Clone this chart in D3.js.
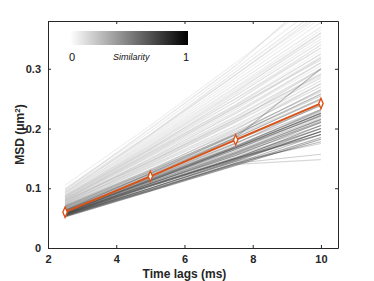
<!DOCTYPE html>
<html>
<head>
<meta charset="utf-8">
<script src="https://cdn.jsdelivr.net/npm/d3@7"></script>
<style>
  body { margin: 0; background: #fff; }
  svg text { font-family: "Liberation Sans", Arial, sans-serif; }
</style>
</head>
<body>
<svg id="chart"></svg>
<script>
// time lags (ms)
var lags = [2.5, 5, 7.5, 10];
var xTicks = [2, 4, 6, 8, 10];
var yTicks = [0, 0.1, 0.2, 0.3];

// one entry per track: similarity and MSD at each lag
var similarity = [
  .05,.08,.10,.06,.12,.07,.15,.09,.11,.14,.05,.18,.10,.13,.16,.08,.20,.12,.17,.06,
  .22,.19,.10,.25,.14,.07,.09,.21,.13,.11,.04,.16,.24,.18,.06,.09,.15,.12,.08,.20,
  .30,.35,.28,.40,.33,.45,.38,.32,.42,.48,.36,.50,.29,.44,.31,.46,.37,.34,.40,.30,
  .52,.41,.27,.47,.39,
  .60,.65,.70,.75,.80,.68,.72,.62,.78,.85,.66,.55,.58,.70,.64,.82,.76,.63,.69,.77
];
var msd1 = [
  .105,.100,.098,.095,.092,.090,.088,.087,.086,.085,.084,.083,.082,.081,.080,.079,.078,.077,.076,.075,
  .075,.074,.073,.072,.094,.091,.089,.086,.083,.080,.078,.076,.079,.074,.085,.082,.097,.093,.087,.081,
  .071,.070,.069,.068,.067,.066,.066,.065,.064,.063,.063,.062,.061,.060,.060,.059,.058,.058,.057,.056,
  .070,.068,.072,.064,.062,
  .060,.059,.058,.057,.056,.055,.055,.054,.053,.052,.063,.062,.061,.060,.058,.054,.056,.053,.057,.059
];
var msd2 = [
  .205,.195,.190,.185,.180,.178,.172,.170,.168,.165,.162,.160,.158,.155,.153,.150,.148,.146,.145,.143,
  .140,.138,.137,.135,.190,.183,.176,.166,.165,.160,.155,.150,.145,.142,.170,.162,.200,.188,.174,.157,
  .132,.130,.128,.126,.124,.122,.120,.118,.116,.115,.113,.112,.110,.108,.107,.105,.104,.100,.098,.096,
  .128,.124,.130,.117,.114,
  .115,.112,.110,.108,.105,.103,.100,.098,.097,.095,.125,.120,.118,.112,.106,.100,.104,.096,.108,.114
];
var msd3 = [
  .310,.300,.290,.285,.275,.270,.262,.258,.250,.245,.240,.238,.235,.232,.228,.225,.220,.218,.215,.212,
  .210,.205,.203,.200,.295,.280,.268,.255,.250,.240,.235,.225,.215,.212,.260,.245,.305,.290,.265,.236,
  .195,.190,.188,.185,.182,.180,.176,.172,.170,.168,.165,.162,.160,.157,.155,.150,.148,.145,.142,.140,
  .192,.184,.198,.170,.166,
  .170,.165,.160,.155,.150,.148,.145,.142,.140,.138,.190,.185,.175,.168,.152,.147,.150,.142,.158,.168
];
var msd4 = [
  .420,.410,.390,.385,.370,.365,.355,.350,.340,.335,.330,.325,.320,.318,.310,.305,.300,.298,.292,.288,
  .285,.280,.275,.270,.400,.378,.360,.345,.335,.325,.318,.310,.290,.300,.360,.340,.430,.395,.360,.315,
  .262,.255,.250,.248,.242,.238,.232,.228,.225,.220,.217,.215,.210,.205,.200,.195,.190,.175,.157,.148,
  .265,.250,.275,.232,.222,
  .230,.222,.215,.210,.205,.200,.195,.190,.185,.182,.258,.300,.240,.225,.200,.195,.190,.178,.212,.226
];
// mean curve
var meanMsd = [0.060, 0.120, 0.181, 0.242];

var width = 374, height = 281;
var margin = {top: 21, right: 36, bottom: 33, left: 48};
var w = width - margin.left - margin.right,
    h = height - margin.top - margin.bottom;

var svg = d3.select("#chart").attr("width", width).attr("height", height);
var g = svg.append("g").attr("transform", "translate(" + margin.left + "," + margin.top + ")");

var x = d3.scaleLinear().domain([2, 10.5]).range([0, w]);
var y = d3.scaleLinear().domain([0, 0.38]).range([h, 0]);
var grey = d3.scaleLinear().domain([0, 1]).range(["#e6e6e6", "#000000"]);

g.append("clipPath").attr("id", "clip")
  .append("rect").attr("width", w).attr("height", h);

var tracks = similarity.map(function(s, i) {
  return {s: s, v: [msd1[i], msd2[i], msd3[i], msd4[i]]};
}).sort(function(a, b) { return a.s - b.s; });

var line = d3.line()
  .x(function(d, i) { return x(lags[i]); })
  .y(function(d) { return y(d); });

g.append("g").attr("clip-path", "url(#clip)")
  .selectAll("path.track")
  .data(tracks)
  .enter().append("path")
  .attr("class", "track")
  .attr("d", function(d) { return line(d.v); })
  .attr("fill", "none")
  .attr("stroke", function(d) { return grey(d.s); })
  .attr("stroke-opacity", 0.42)
  .attr("stroke-width", 1.1);

// mean line
var orange = "#D95319";
g.append("path")
  .attr("d", line(meanMsd))
  .attr("fill", "none")
  .attr("stroke", orange)
  .attr("stroke-width", 2);

g.selectAll("path.marker")
  .data(meanMsd)
  .enter().append("path")
  .attr("class", "marker")
  .attr("d", d3.symbol().type(d3.symbolDiamond).size(26))
  .attr("transform", function(d, i) { return "translate(" + x(lags[i]) + "," + y(d) + ") scale(0.8,1.1)"; })
  .attr("fill", "#fff")
  .attr("stroke", orange)
  .attr("stroke-width", 1.6);

// axes (ticks inside, box)
var axisColor = "#262626";
var xAxis = g.append("g").attr("transform", "translate(0," + h + ")")
  .call(d3.axisBottom(x).tickValues(xTicks).tickSizeInner(-3).tickSizeOuter(0).tickPadding(7));
var yAxis = g.append("g")
  .call(d3.axisLeft(y).tickValues(yTicks).tickSizeInner(-3).tickSizeOuter(0).tickPadding(7)
    .tickFormat(function(d) { return d === 0 ? "0" : d3.format(".1f")(d); }));
var xTop = g.append("g")
  .call(d3.axisTop(x).tickValues(xTicks).tickSizeInner(-3).tickSizeOuter(0).tickFormat(""));
var yRight = g.append("g").attr("transform", "translate(" + w + ",0)")
  .call(d3.axisRight(y).tickValues(yTicks).tickSizeInner(-3).tickSizeOuter(0).tickFormat(""));

[xAxis, yAxis, xTop, yRight].forEach(function(a) {
  a.selectAll("path, line").attr("stroke", axisColor);
  a.selectAll("text").attr("fill", axisColor).style("font-size", "11px").style("font-weight", "bold");
});

// axis labels
svg.append("text")
  .attr("x", margin.left + x(6))
  .attr("y", 278)
  .attr("text-anchor", "middle")
  .attr("fill", axisColor)
  .style("font-size", "12px").style("font-weight", "bold")
  .text("Time lags (ms)");

var yl = svg.append("text")
  .attr("transform", "translate(24," + (margin.top + h / 2) + ") rotate(-90)")
  .attr("text-anchor", "middle")
  .attr("fill", axisColor)
  .style("font-size", "12px").style("font-weight", "bold");
yl.append("tspan").text("MSD (μm");
yl.append("tspan").attr("dy", -4).style("font-size", "8px").text("2");
yl.append("tspan").attr("dy", 4).text(")");

// similarity colour bar
var defs = svg.append("defs");
var grad = defs.append("linearGradient").attr("id", "simgrad");
grad.append("stop").attr("offset", "0%").attr("stop-color", "#ffffff");
grad.append("stop").attr("offset", "100%").attr("stop-color", "#000000");

var cb = d3.scaleLinear().domain([0, 1]).range([70, 188]);
svg.append("rect")
  .attr("x", cb(0)).attr("y", 31)
  .attr("width", cb(1) - cb(0)).attr("height", 14)
  .attr("fill", "url(#simgrad)");
svg.selectAll("text.cbt")
  .data([0, 1])
  .enter().append("text")
  .attr("class", "cbt")
  .attr("x", function(d) { return cb(d) + (d === 0 ? 2 : -2); })
  .attr("y", 61)
  .attr("text-anchor", "middle")
  .attr("fill", "#111")
  .style("font-size", "11px")
  .text(function(d) { return d; });
svg.append("text")
  .attr("x", cb(0.52)).attr("y", 60)
  .attr("text-anchor", "middle")
  .attr("fill", "#111")
  .style("font-size", "9px").style("font-style", "italic")
  .text("Similarity");
</script>
</body>
</html>
